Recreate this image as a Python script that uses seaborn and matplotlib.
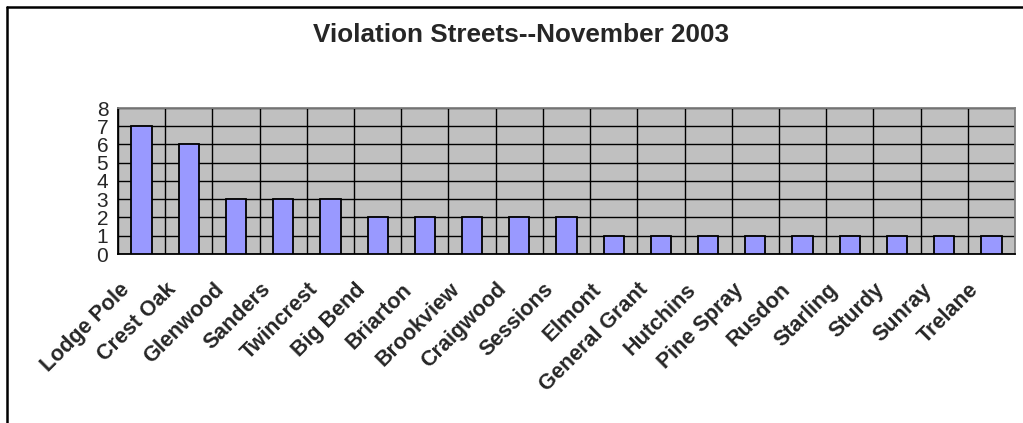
import numpy as np
import pandas as pd
import seaborn as sns
import matplotlib.pyplot as plt
from matplotlib.lines import Line2D
from matplotlib.transforms import ScaledTranslation

streets = ["Lodge Pole", "Crest Oak", "Glenwood", "Sanders", "Twincrest",
           "Big Bend", "Briarton", "Brookview", "Craigwood", "Sessions",
           "Elmont", "General Grant", "Hutchins", "Pine Spray", "Rusdon",
           "Starling", "Sturdy", "Sunray", "Trelane"]
violations = [7, 6, 3, 3, 3, 2, 2, 2, 2, 2, 1, 1, 1, 1, 1, 1, 1, 1, 1]
y_ticks = [0, 1, 2, 3, 4, 5, 6, 7, 8]

title = "Violation Streets--November 2003"


def main():
    df = pd.DataFrame({"Street": streets, "Violations": violations})

    fig = plt.figure(figsize=(10.23, 4.23), dpi=100)
    ax = fig.add_axes([118 / 1023, 1 - 254 / 423, (1015 - 118) / 1023, (254 - 108) / 423])
    ax.set_facecolor("#C0C0C0")

    sns.barplot(data=df, x="Street", y="Violations", ax=ax, color="#9999FF",
                saturation=1, width=0.43, edgecolor="black", linewidth=1.3, zorder=3)

    n = len(streets)
    ax.set_xlim(-0.5, n - 0.5)
    ax.set_ylim(0, 8)
    ax.set_yticks(y_ticks)
    ax.set_yticklabels([str(t) for t in y_ticks], fontsize=15)
    ax.set_xticks(np.arange(-0.5, n, 1.0), minor=True)
    ax.set_xticks(np.arange(n))
    ax.set_xticklabels(streets, rotation=45, ha="right", va="top", rotation_mode="anchor",
                       fontsize=15.5, fontweight="bold")
    ax.tick_params(axis="x", which="major", length=0, pad=18)
    ax.tick_params(axis="x", which="minor", length=5, width=1, color="black", direction="out")
    ax.tick_params(axis="y", length=5, width=1, color="black", direction="out", pad=2)
    shift = ScaledTranslation(-0.23, 0, fig.dpi_scale_trans)
    for lbl in ax.get_xticklabels():
        lbl.set_transform(lbl.get_transform() + shift)

    ax.grid(axis="y", which="major", color="black", linewidth=1, zorder=1)
    ax.grid(axis="x", which="minor", color="black", linewidth=1, zorder=1)
    ax.grid(axis="x", which="major", visible=False)
    ax.set_axisbelow(True)

    ax.set_xlabel("")
    ax.set_ylabel("")
    ax.spines["left"].set_color("black")
    ax.spines["bottom"].set_color("black")
    ax.spines["top"].set_color("#808080")
    ax.spines["right"].set_color("#808080")
    for s in ax.spines.values():
        s.set_linewidth(1.3)

    fig.text(521 / 1023, 1 - 35 / 423, title, ha="center", va="center",
             fontsize=18.8, fontweight="bold")

    # outer chart frame (bottom and right run off the picture)
    fig.add_artist(Line2D([7 / 1023, 7 / 1023], [0, 1 - 7 / 423], transform=fig.transFigure,
                          color="black", linewidth=1.8))
    fig.add_artist(Line2D([7 / 1023, 1], [1 - 7 / 423, 1 - 7 / 423], transform=fig.transFigure,
                          color="black", linewidth=1.8))

    fig.savefig("out.png", dpi=100)


if __name__ == "__main__":
    sns.set_theme(style="white")
    plt.rcParams["font.family"] = ["Liberation Sans", "DejaVu Sans"]
    main()
